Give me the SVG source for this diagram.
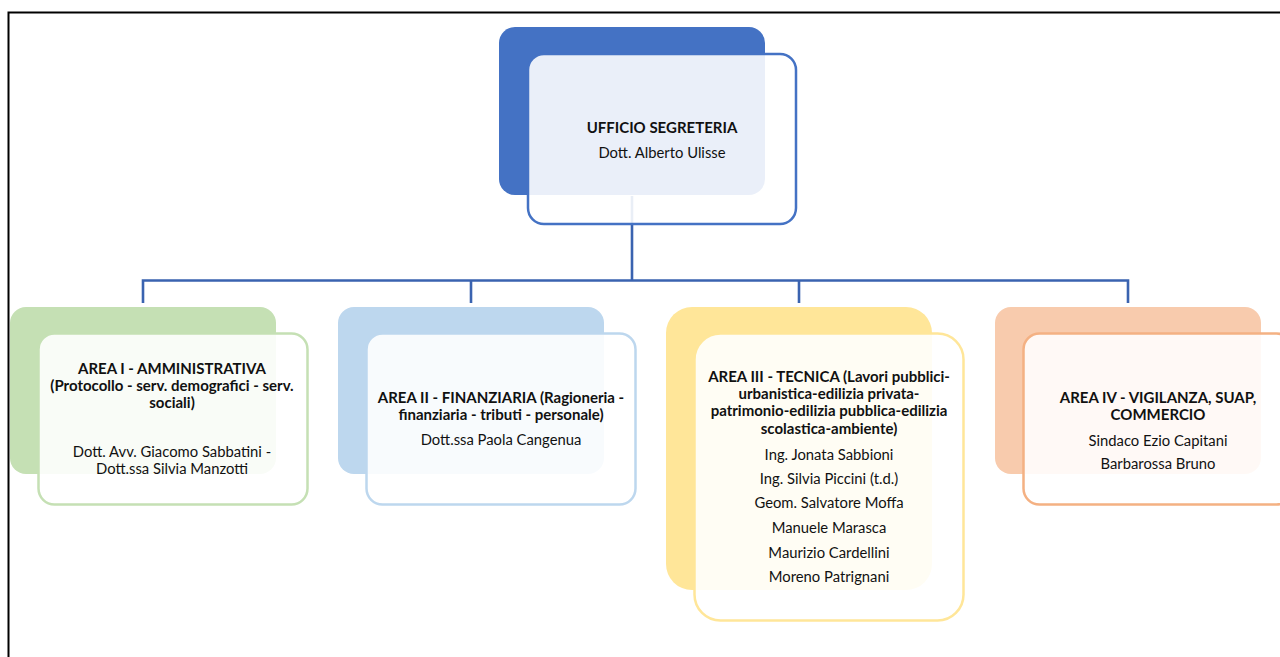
<svg xmlns="http://www.w3.org/2000/svg" width="1280" height="657" viewBox="0 0 1280 657">
<style>
.frame{fill:none;stroke:#000;stroke-width:2}
.conn{fill:none;stroke:#3A63B0;stroke-width:2.6}
.front{fill:#fff;fill-opacity:0.89;stroke-width:2.5}
text{font-family:Lato,"Liberation Sans",sans-serif;font-size:14.8px;fill:#111;text-anchor:middle}
.b{font-weight:bold;font-size:15px}
</style>
<rect width="1280" height="657" fill="#fff"/>
<path class="frame" d="M8.5,657 V12.5 H1280"/>
<g id="node-top-back"><rect x="499" y="27" width="266" height="168" rx="16" fill="#4472C4"/></g>
<g id="connectors">
<path class="conn" d="M632,196 V280.5"/>
<path class="conn" d="M143,303 V280.5 H1128 V303"/>
<path class="conn" d="M471,280.5 V303"/>
<path class="conn" d="M799,280.5 V303"/>
</g>
<g id="ufficio-segreteria">
<rect class="front" x="528" y="54" width="268" height="170" rx="16" stroke="#4472C4"/>
<text class="b" x="662" y="133">UFFICIO SEGRETERIA</text>
<text x="662" y="158">Dott. Alberto Ulisse</text>
</g>
<g id="area-1">
<rect x="10" y="307" width="266" height="167" rx="16" fill="#C5E0B4"/>
<rect class="front" x="38.5" y="333.5" width="269" height="171" rx="16" stroke="#C5E0B4"/>
<text class="b" x="172" y="374">AREA I - AMMINISTRATIVA</text>
<text class="b" x="172" y="391">(Protocollo - serv. demografici - serv.</text>
<text class="b" x="172" y="408">sociali)</text>
<text x="172" y="457">Dott. Avv. Giacomo Sabbatini -</text>
<text x="172" y="474">Dott.ssa Silvia Manzotti</text>
</g>
<g id="area-2">
<rect x="338" y="307" width="266" height="167" rx="16" fill="#BDD7EE"/>
<rect class="front" x="366.5" y="333.5" width="269" height="171" rx="16" stroke="#BDD7EE"/>
<text class="b" x="501" y="403">AREA II - FINANZIARIA (Ragioneria -</text>
<text class="b" x="501" y="420">finanziaria - tributi - personale)</text>
<text x="501" y="445">Dott.ssa Paola Cangenua</text>
</g>
<g id="area-3">
<rect x="666" y="307" width="266" height="283" rx="26" fill="#FFE699"/>
<rect class="front" x="694.5" y="333.5" width="269" height="287" rx="26" stroke="#FFE699"/>
<text class="b" x="829" y="382">AREA III - TECNICA (Lavori pubblici-</text>
<text class="b" x="829" y="399">urbanistica-edilizia  privata-</text>
<text class="b" x="829" y="416">patrimonio-edilizia  pubblica-edilizia</text>
<text class="b" x="829" y="434">scolastica-ambiente)</text>
<text x="829" y="460">Ing. Jonata Sabbioni</text>
<text x="829" y="484">Ing. Silvia Piccini (t.d.)</text>
<text x="829" y="508">Geom. Salvatore Moffa</text>
<text x="829" y="533">Manuele Marasca</text>
<text x="829" y="558">Maurizio Cardellini</text>
<text x="829" y="582">Moreno Patrignani</text>
</g>
<g id="area-4">
<rect x="995" y="307" width="266" height="167" rx="16" fill="#F8CBAD"/>
<rect class="front" x="1023.5" y="333.5" width="269" height="171" rx="16" stroke="#F4B183"/>
<text class="b" x="1158" y="403">AREA IV - VIGILANZA, SUAP,</text>
<text class="b" x="1158" y="420">COMMERCIO</text>
<text x="1158" y="446">Sindaco Ezio Capitani</text>
<text x="1158" y="469">Barbarossa Bruno</text>
</g>
</svg>
